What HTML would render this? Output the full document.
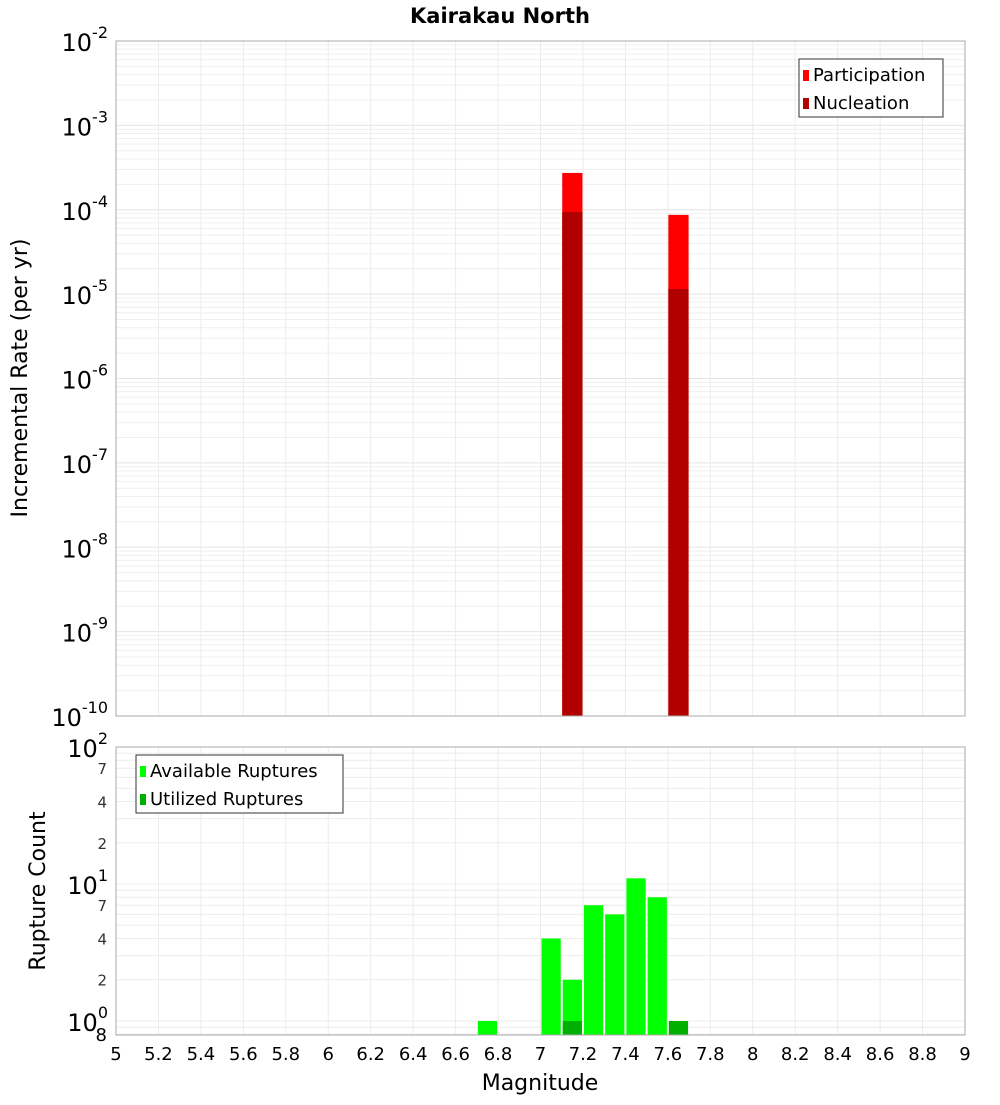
<!DOCTYPE html>
<html><head><meta charset="utf-8"><style>
body{margin:0;background:#fff;font-family:"Liberation Sans","DejaVu Sans",sans-serif}
svg text{font-family:"DejaVu Sans","Liberation Sans",sans-serif}
</style></head><body>
<svg id="c" width="1000" height="1100" xmlns="http://www.w3.org/2000/svg">
<text x="500" y="23" text-anchor="middle" font-size="21" font-weight="bold">Kairakau North</text>
<text transform="translate(27,378) rotate(-90)" text-anchor="middle" font-size="22">Incremental Rate (per yr)</text>
<text transform="translate(45,891) rotate(-90)" text-anchor="middle" font-size="22">Rupture Count</text>
<text x="540" y="1090" text-anchor="middle" font-size="22">Magnitude</text>
<g id="g"></g>
</svg>
<script>
const magBins=[7.1,7.6];
const participation=[2.73e-4,8.7e-5];
const nucleation=[9.4e-5,1.15e-5];
const countBins=[6.7,7.0,7.1,7.2,7.3,7.4,7.5];
const available=[1,4,2,7,6,11,8];
const utilBins=[7.1,7.6];
const utilized=[1,1];
const xTicks=[5,5.2,5.4,5.6,5.8,6,6.2,6.4,6.6,6.8,7,7.2,7.4,7.6,7.8,8,8.2,8.4,8.6,8.8,9];
const topExps=[-2,-3,-4,-5,-6,-7,-8,-9,-10];
const botMinorLabels=[2,4,7];

const NS='http://www.w3.org/2000/svg';
const g=document.getElementById('g');
function el(t,a,p){const e=document.createElementNS(NS,t);for(const k in a)e.setAttribute(k,a[k]);(p||g).appendChild(e);return e;}
const X0=116,X1=965;
const x=m=>X0+(m-5)/4*(X1-X0);
const TT=41,TB=716;
const yT=v=>TT+(-2-Math.log10(v))*(TB-TT)/8;
const BT=747,BB=1035,BMIN=0.79,BMAX=100;
const yB=v=>BT+(Math.log10(BMAX)-Math.log10(v))*(BB-BT)/(Math.log10(BMAX)-Math.log10(BMIN));

// grids
for(let e=-10;e<-2;e++)for(let k=1;k<10;k++){const y=yT(k*Math.pow(10,e));const l=el('line',{x1:X0,x2:X1,y1:y,y2:y,stroke:k==1?'#e4e4e4':'#efefef','stroke-width':1});}
for(let e=-1;e<2;e++)for(let k=1;k<10;k++){const v=k*Math.pow(10,e);if(v<BMIN)continue;const y=yB(v);const l=el('line',{x1:X0,x2:X1,y1:y,y2:y,stroke:'#ececec','stroke-width':1});}
xTicks.forEach(t=>{[[TT,TB],[BT,BB]].forEach(r=>{const l=el('line',{x1:x(t),x2:x(t),y1:r[0],y2:r[1],stroke:'#ececec'});});
const tx=el('text',{x:x(t),y:1060,'text-anchor':'middle','font-size':18});tx.textContent=String(t);

});

// top bars
magBins.forEach((m,i)=>{
const a=el('rect',{x:x(m)+0.5,y:yT(participation[i]),width:x(m+0.1)-x(m)-1,height:TB-yT(participation[i]),fill:'#ff0000'});


const b=el('rect',{x:x(m)+0.5,y:yT(nucleation[i]),width:x(m+0.1)-x(m)-1,height:TB-yT(nucleation[i]),fill:'#b00000'});

});
// bottom bars
countBins.forEach((m,i)=>{const r=el('rect',{x:x(m)+1,y:yB(available[i]),width:x(m+0.1)-x(m)-2,height:BB-yB(available[i]),fill:'#00ff00'});

});
utilBins.forEach((m,i)=>{const r=el('rect',{x:x(m)+1,y:yB(utilized[i]),width:x(m+0.1)-x(m)-2,height:BB-yB(utilized[i]),fill:'#00b000'});

});

// frames
const f1=el('rect',{x:X0,y:TT,width:X1-X0,height:TB-TT,fill:'none',stroke:'#aaa'});


const f2=el('rect',{x:X0,y:BT,width:X1-X0,height:BB-BT,fill:'none',stroke:'#aaa'});



// top y labels
topExps.forEach(e=>{const y=yT(Math.pow(10,e));const t=el('text',{x:108,y:y+10,'text-anchor':'end','font-size':24});
t.innerHTML='10<tspan dy="-13" font-size="16">'+e+'</tspan>';

});
// bottom y labels
[0,1,2].forEach(e=>{const y=yB(Math.pow(10,e));const t=el('text',{x:108,y:y+10,'text-anchor':'end','font-size':24});
t.innerHTML='10<tspan dy="-13" font-size="16">'+e+'</tspan>';

});
[1,10].forEach(d=>botMinorLabels.forEach(k=>{const y=yB(k*d);const t=el('text',{x:107,y:y+6,'text-anchor':'end','font-size':15,fill:'#333'});t.textContent=String(k);

}));
const t8=el('text',{x:107,y:1041,'text-anchor':'end','font-size':18});t8.textContent='8';



// legends
function legend(xx,yy,w,items,name){const lg=el('g',{});
el('rect',{x:xx,y:yy,width:w,height:58,fill:'#fff',stroke:'#333'},lg);
items.forEach((it,i)=>{el('rect',{x:xx+4,y:yy+11+i*28,width:6,height:11,fill:it[1]},lg);const t=el('text',{x:xx+14,y:yy+22+i*28,'font-size':18},lg);t.textContent=it[0];});}
legend(799,59,144,[['Participation','#ff0000'],['Nucleation','#b00000']],'top-legend');
legend(136,755,207,[['Available Ruptures','#00ff00'],['Utilized Ruptures','#00b000']],'bottom-legend');
</script>
</body></html>
